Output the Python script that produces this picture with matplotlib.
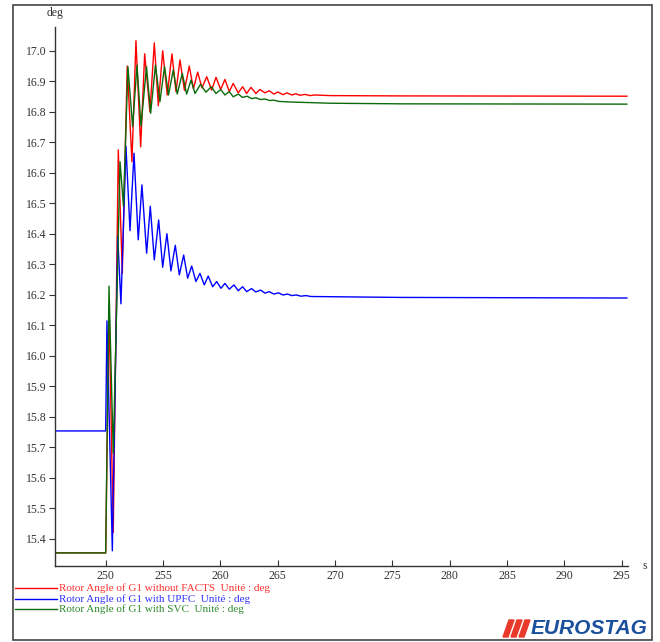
import numpy as np
import matplotlib
matplotlib.use('Agg')
import matplotlib.pyplot as plt
from matplotlib.patches import Rectangle, Polygon
from matplotlib.lines import Line2D

# -------------------------------------------------------
#   Datos (extremos de cada oscilacion)
# -------------------------------------------------------
t_rojo = [245.58, 250.0, 250.29, 250.66, 251.10, 251.45, 251.88, 252.29, 252.64, 253.05,
          253.40, 253.86, 254.24, 254.59, 254.97, 255.37, 255.78, 256.13, 256.48, 256.87,
          257.29, 257.65, 258.02, 258.40, 258.81, 259.24, 259.62, 260.03, 260.40, 260.78,
          261.12, 261.56, 261.94, 262.29, 262.67, 263.10, 263.45, 263.89, 264.26, 264.67,
          265.02, 265.46, 265.81, 266.24, 266.59, 266.94, 267.38, 267.81, 268.25, 269.56,
          275.66, 295.45]
v_rojo = [15.353, 15.353, 16.16, 15.42, 16.675, 16.27, 16.95, 16.636, 17.033, 16.685,
          16.99, 16.80, 17.026, 16.82, 17.0, 16.855, 16.99, 16.866, 16.97, 16.87,
          16.95, 16.875, 16.93, 16.878, 16.915, 16.871, 16.913, 16.873, 16.906, 16.866,
          16.893, 16.862, 16.882, 16.86, 16.88, 16.86, 16.873, 16.862, 16.869, 16.858,
          16.865, 16.856, 16.862, 16.855, 16.859, 16.854, 16.857, 16.853, 16.855, 16.853,
          16.852, 16.851]

t_azul = [245.58, 250.0, 250.11, 250.58, 251.05, 251.33, 251.77, 252.12, 252.47, 252.84,
          253.16, 253.57, 253.89, 254.24, 254.62, 254.97, 255.34, 255.69, 256.07, 256.42,
          256.80, 257.15, 257.50, 257.87, 258.22, 258.60, 258.94, 259.33, 259.68, 260.05,
          260.40, 260.78, 261.19, 261.56, 261.94, 262.29, 262.73, 263.08, 263.51, 263.89,
          264.26, 264.67, 265.07, 265.46, 265.85, 266.24, 266.63, 267.03, 267.46, 267.90,
          270.43, 275.66, 295.45]
v_azul = [15.753, 15.753, 16.114, 15.36, 16.39, 16.17, 16.687, 16.41, 16.664, 16.38,
          16.56, 16.336, 16.49, 16.314, 16.445, 16.29, 16.40, 16.278, 16.362, 16.265,
          16.33, 16.254, 16.294, 16.243, 16.27, 16.232, 16.261, 16.226, 16.243, 16.221,
          16.237, 16.218, 16.232, 16.213, 16.226, 16.21, 16.22, 16.209, 16.215, 16.205,
          16.21, 16.202, 16.206, 16.199, 16.202, 16.197, 16.199, 16.195, 16.197, 16.194,
          16.193, 16.191, 16.189]

t_verde = [245.58, 250.0, 250.29, 250.66, 251.25, 251.55, 251.94, 252.35, 252.73, 253.08,
           253.56, 253.92, 254.34, 254.73, 255.13, 255.48, 255.89, 256.24, 256.68, 257.06,
           257.44, 257.79, 258.27, 258.74, 259.21, 259.62, 260.03, 260.40, 260.78, 261.12,
           261.56, 261.94, 262.35, 262.73, 263.10, 263.50, 263.89, 264.28, 264.67, 265.07,
           266.07, 269.56, 275.66, 295.45]
v_verde = [15.353, 15.353, 16.228, 15.68, 16.636, 16.49, 16.948, 16.751, 16.953, 16.753,
           16.948, 16.795, 16.953, 16.833, 16.948, 16.855, 16.937, 16.858, 16.926, 16.858,
           16.904, 16.86, 16.89, 16.864, 16.882, 16.86, 16.873, 16.855, 16.866, 16.849,
           16.858, 16.847, 16.851, 16.843, 16.846, 16.840, 16.842, 16.837, 16.838, 16.834,
           16.832, 16.828, 16.826, 16.825]

ticks_x = [250, 255, 260, 265, 270, 275, 280, 285, 290, 295]
ticks_y = [15.4, 15.5, 15.6, 15.7, 15.8, 15.9, 16.0, 16.1, 16.2, 16.3,
           16.4, 16.5, 16.6, 16.7, 16.8, 16.9, 17.0]

leyendas = ['Rotor Angle of G1 without FACTS  Unité : deg',
            'Rotor Angle of G1 with UPFC  Unité : deg',
            'Rotor Angle of G1 with SVC  Unité : deg']
colores = ['#ff0000', '#0000ff', '#0b6b0b']
colores_texto = ['#ff3030', '#3030ff', '#2e8b2e']

fuente = 'Liberation Serif'
gris = '#333333'

# -------------------------------------------------------
#   Figura y ejes
# -------------------------------------------------------
fig = plt.figure(figsize=(6.6, 6.42), dpi=100)
ax = fig.add_axes([55/660, 1 - 566/642, (628 - 55)/660, (566 - 26.7)/642])

ax.plot(t_rojo, v_rojo, color=colores[0], lw=1.0)
ax.plot(t_azul, v_azul, color=colores[1], lw=1.0)
ax.plot(t_verde, v_verde, color=colores[2], lw=1.0)

ax.set_xlim(245.58, 295.55)
ax.set_ylim(15.31, 17.079)
ax.set_xticks(ticks_x)
ax.set_yticks(ticks_y)
ax.set_xticklabels([str(x) for x in ticks_x], fontfamily=fuente, fontsize=8.5, color=gris)
ax.set_yticklabels(['%.1f' % y for y in ticks_y], fontfamily=fuente, fontsize=8.5, color=gris)
ax.tick_params(axis='y', direction='out', length=4, width=0.8, color=gris, pad=2)
ax.tick_params(axis='x', direction='in', length=4, width=0.8, color=gris, pad=3)

for lado in ['top', 'right']:
    ax.spines[lado].set_visible(False)
for lado in ['left', 'bottom']:
    ax.spines[lado].set_color(gris)
    ax.spines[lado].set_linewidth(1.0)

# --- unidades de los ejes ---
fig.text(55/660, 1 - 13/642, 'deg', fontfamily=fuente, fontsize=8.5, color=gris,
         ha='center', va='center')
fig.text(645/660, 1 - 566/642, 's', fontfamily=fuente, fontsize=8.5, color=gris,
         ha='center', va='center')

# --- leyenda manual ---
filas_y = [588, 599, 609]
for i in range(3):
    y = 1 - filas_y[i]/642
    fig.add_artist(Line2D([15/660, 57/660], [y, y], color=colores[i], lw=1.0))
    fig.text(59/660, y, leyendas[i], fontfamily=fuente, fontsize=8,
             color=colores_texto[i], ha='left', va='center')

# --- marco exterior ---
fig.add_artist(Rectangle((13/660, 1 - 640/642), (652 - 13)/660, (640 - 5)/642,
                         fill=False, edgecolor='#444444', lw=1.2))

# --- logo EUROSTAG ---
for k in range(3):
    x0 = 503 + k*8
    pts = [(x0/660, 1 - 637/642), ((x0 + 5)/660, 1 - 637/642),
           ((x0 + 11)/660, 1 - 620/642), ((x0 + 6)/660, 1 - 620/642)]
    fig.add_artist(Polygon(pts, closed=True, color='#e8392b'))
fig.text(531/660, 1 - 629/642, 'EUROSTAG', fontfamily='Liberation Sans', fontsize=15,
         fontweight='bold', fontstyle='italic', color='#1a4f9c', ha='left', va='center')

fig.savefig('out.png', dpi=100)
